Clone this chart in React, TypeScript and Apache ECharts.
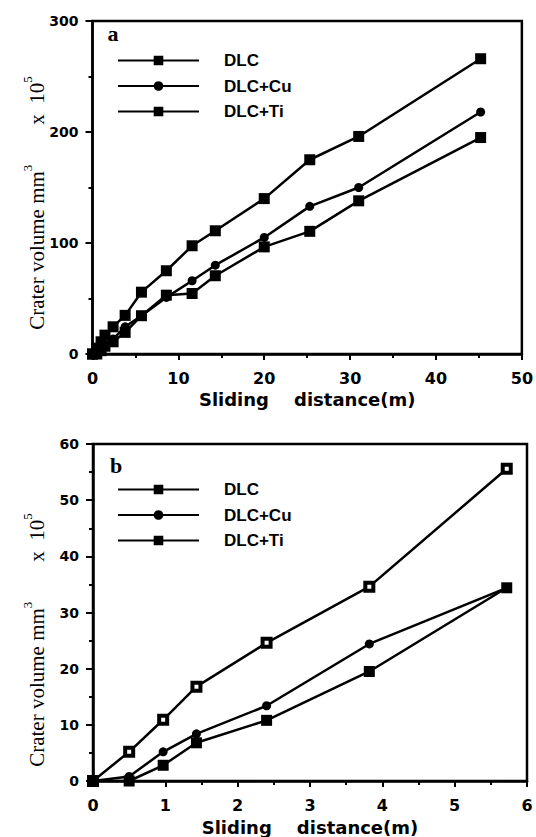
import React, { useEffect, useRef } from 'react';
import * as echarts from 'echarts';

// Panel a
const distA = [0, 0.5, 1, 1.45, 2.4, 3.8, 5.7, 8.6, 11.6, 14.3, 20, 25.3, 31, 45.2];
const dlcA = [0, 5.3, 11, 17, 24.5, 34.8, 55.7, 75, 97.5, 111, 140, 175, 196, 266];
const cuA = [0, 0.8, 5.3, 8.5, 13.5, 24.5, 34.5, 51, 66, 80, 105, 133, 150, 218];
const tiA = [0, 0, 3, 7, 11, 19.5, 34.5, 53, 54.5, 70.5, 96.5, 110.5, 138, 195];

// Panel b
const distB = [0, 0.5, 0.97, 1.43, 2.4, 3.82, 5.72];
const dlcB = [0, 5.2, 10.9, 16.8, 24.6, 34.6, 55.6];
const cuB = [0, 0.8, 5.2, 8.4, 13.4, 24.4, 34.4];
const tiB = [0, 0, 2.8, 6.8, 10.8, 19.5, 34.4];

const seriesNames = ['DLC', 'DLC+Cu', 'DLC+Ti'];
const xNameText = 'Sliding    distance(m)';
const yNameText = '{m|Crater volume mm}{s|3}{g|}{m|x  10}{s|5}';

const pair = (xs: number[], ys: number[]) => xs.map((x, i) => [x, ys[i]]);

export default function App() {
  const ref = useRef<HTMLDivElement>(null);
  useEffect(() => {
    if (!ref.current) return;
    const chart = echarts.init(ref.current, null, { renderer: 'svg' });
    const axisFont = { fontFamily: 'DejaVu Sans', fontWeight: 'bold' as const, color: '#000' };
    const mkX = (gi: number, max: number, interval: number, margin: number, gap: number) => ({
      type: 'value', gridIndex: gi, min: 0, max, interval,
      axisLine: { show: true, lineStyle: { color: '#000', width: 2.5 } },
      axisTick: { show: true, inside: false, length: 6, lineStyle: { color: '#000', width: 2 } },
      minorTick: { show: true, splitNumber: 2, length: 4, lineStyle: { color: '#000', width: 2 } },
      splitLine: { show: false },
      axisLabel: { ...axisFont, fontSize: 16, margin },
      name: xNameText, nameLocation: 'middle', nameGap: gap,
      nameTextStyle: { ...axisFont, fontSize: 18 },
    });
    const mkY = (gi: number, max: number, interval: number) => ({
      type: 'value', gridIndex: gi, min: 0, max, interval,
      axisLine: { show: true, lineStyle: { color: '#000', width: 2.5 } },
      axisTick: { show: true, inside: false, length: 7, lineStyle: { color: '#000', width: 2 } },
      minorTick: { show: true, splitNumber: 2, length: 4, lineStyle: { color: '#000', width: 2 } },
      splitLine: { show: false },
      axisLabel: { ...axisFont, fontSize: 14, margin: 14 },
    });
    const lineStyle = { color: '#000', width: 2.5 };
    const mkSeries = (name: string, data: number[][], gi: number, symbol: string, size: number, hollow = false) => ({
      type: 'line', name, xAxisIndex: gi, yAxisIndex: gi, data,
      symbol, symbolSize: size, showSymbol: true,
      lineStyle, color: '#000',
      itemStyle: hollow ? { color: '#fff', borderColor: '#000', borderWidth: 4 } : { color: '#000', borderColor: '#000', borderWidth: 0 },
      z: 3,
    });
    const legendBase = {
      orient: 'vertical', left: 112, itemWidth: 81, itemHeight: 12, itemGap: 8.5,
      data: seriesNames,
      textStyle: { fontFamily: 'Liberation Sans', fontWeight: 'bold', fontSize: 17, color: '#000', lineHeight: 14, padding: [0, 0, 0, 20] },
      selectedMode: false,
    };
    const yTitle = (cx: number, cy: number) => ({
      type: 'text', x: cx, y: cy, rotation: Math.PI / 2,
      style: {
        text: yNameText, align: 'center', verticalAlign: 'middle', fill: '#000',
        rich: {
          m: { fontFamily: 'Liberation Serif', fontSize: 21, lineHeight: 27, verticalAlign: 'bottom', fill: '#000' },
          s: { fontFamily: 'Liberation Serif', fontSize: 13, lineHeight: 13, verticalAlign: 'top', fill: '#000' },
          g: { width: 40 },
        },
      },
    });
    const panelLetter = (text: string, x: number, y: number) => ({
      type: 'text', x, y,
      style: { text, fill: '#000', font: 'bold 22px "Liberation Serif"', align: 'center', verticalAlign: 'middle' },
    });
    chart.setOption({
      animation: false,
      backgroundColor: '#fff',
      grid: [
        { left: 92.5, top: 21, right: 13, height: 333, show: true, borderColor: '#000', borderWidth: 2.5, backgroundColor: 'transparent' },
        { left: 93, top: 444, right: 9, height: 337, show: true, borderColor: '#000', borderWidth: 2.5, backgroundColor: 'transparent' },
      ],
      xAxis: [mkX(0, 50, 10, 16, 36), mkX(1, 6, 1, 16, 37)],
      yAxis: [mkY(0, 300, 100), mkY(1, 60, 10)],
      legend: [
        { ...legendBase, top: 47 },
        { ...legendBase, top: 476 },
      ],
      series: [
        mkSeries('DLC', pair(distA, dlcA), 0, 'rect', 11),
        mkSeries('DLC+Cu', pair(distA, cuA), 0, 'circle', 9),
        mkSeries('DLC+Ti', pair(distA, tiA), 0, 'rect', 11),
        mkSeries('DLC', pair(distB, dlcB), 1, 'rect', 8, true),
        mkSeries('DLC+Cu', pair(distB, cuB), 1, 'circle', 9),
        mkSeries('DLC+Ti', pair(distB, tiB), 1, 'rect', 11),
      ],
      graphic: [
        yTitle(34, 203),
        yTitle(34, 640),
        panelLetter('a', 113, 33),
        panelLetter('b', 116, 465),
      ],
    });
    return () => chart.dispose();
  }, []);
  return <div ref={ref} style={{ position: 'fixed', left: 0, top: 0, width: 536, height: 837 }} />;
}
